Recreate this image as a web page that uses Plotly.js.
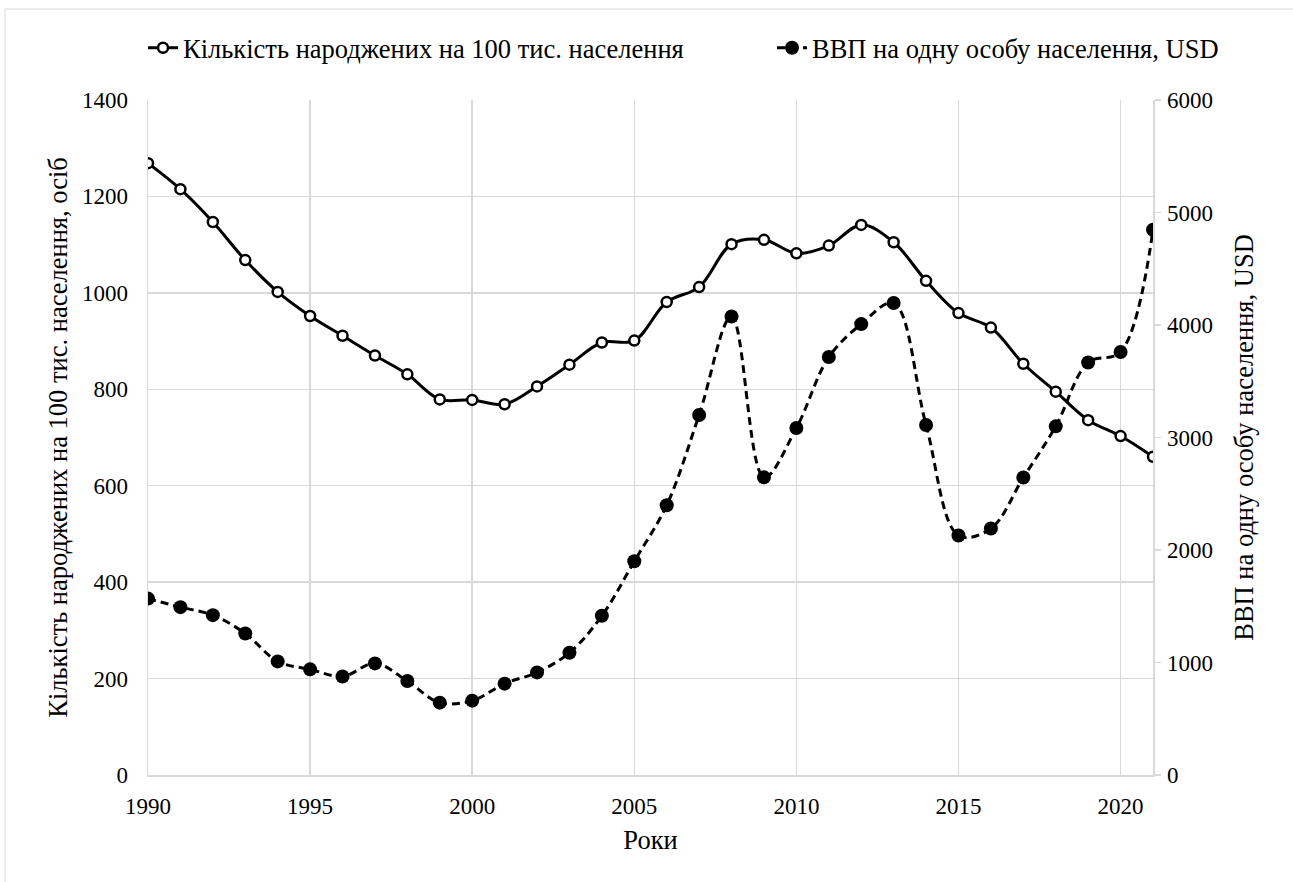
<!DOCTYPE html>
<html>
<head>
<meta charset="utf-8">
<script src="https://cdn.plot.ly/plotly-3.0.1.min.js"></script>
<style>
  html, body { margin: 0; padding: 0; background: #ffffff; }
  #chart { width: 1293px; height: 882px; }
</style>
</head>
<body>
<div id="chart"></div>
<script>
const years = [1990,1991,1992,1993,1994,1995,1996,1997,1998,1999,2000,2001,2002,2003,2004,2005,2006,2007,2008,2009,2010,2011,2012,2013,2014,2015,2016,2017,2018,2019,2020,2021];
const births = [1269,1215,1147,1068,1002,952,911,870,831,779,778,769,806,851,897,901,981,1012,1101,1110,1082,1098,1141,1105,1025,958,928,853,795,736,703,660];
const gdp = [1568,1492,1421,1258,1010,939,876,992,835,643,661,812,912,1087,1415,1900,2398,3200,4076,2646,3085,3715,4008,4195,3111,2129,2191,2644,3099,3667,3760,4846];
const birthsName = "Кількість народжених на 100 тис. населення";
const gdpName = "ВВП на одну особу населення, USD";
const xTitle = "Роки";
const yTitle = "Кількість народжених на 100 тис. населення, осіб";
const y2Title = "ВВП на одну особу населення, USD";

const FONT = "'Liberation Serif', 'Times New Roman', serif";
const GRID = "#d9d9d9";

const traces = [
  {
    x: years, y: births, name: birthsName, type: "scatter", mode: "lines+markers",
    legend: "legend",
    line: { color: "#000000", width: 3, shape: "spline", smoothing: 1 },
    marker: { symbol: "circle", size: 10, color: "#ffffff", line: { color: "#000000", width: 2.5 } },
    hoverinfo: "skip"
  },
  {
    x: years, y: gdp, name: gdpName, type: "scatter", mode: "lines+markers", yaxis: "y2",
    legend: "legend2",
    line: { color: "#000000", width: 3, shape: "spline", smoothing: 1, dash: "8px,5px" },
    marker: { symbol: "circle", size: 14, color: "#000000" },
    hoverinfo: "skip"
  }
];

const legendFont = { family: FONT, size: 26.5, color: "#000000" };

const layout = {
  width: 1293, height: 882,
  margin: { l: 148, r: 140, t: 100, b: 107, autoexpand: false },
  paper_bgcolor: "#ffffff", plot_bgcolor: "#ffffff",
  font: { family: FONT, size: 23, color: "#000000" },
  showlegend: true,
  legend: {
    orientation: "h", xref: "container", yref: "container",
    x: 143 / 1293, xanchor: "left", y: 1 - 48 / 882, yanchor: "middle",
    font: legendFont, itemwidth: 30
  },
  legend2: {
    orientation: "h", xref: "container", yref: "container",
    x: 772 / 1293, xanchor: "left", y: 1 - 48 / 882, yanchor: "middle",
    font: legendFont, itemwidth: 30
  },
  xaxis: {
    range: [1990, 2021], tick0: 1990, dtick: 5, tickmode: "linear",
    showgrid: true, gridcolor: GRID, gridwidth: 1.5,
    showline: true, linecolor: GRID, linewidth: 1.5,
    zeroline: false, ticks: "", ticklabelstandoff: 10,
    tickfont: { family: FONT, size: 23 },
    title: { text: xTitle, font: { family: FONT, size: 26.5 }, standoff: 12 }
  },
  yaxis: {
    range: [0, 1400], tick0: 0, dtick: 200, tickmode: "linear",
    showgrid: true, gridcolor: GRID, gridwidth: 1.5,
    showline: true, linecolor: GRID, linewidth: 1.5,
    zeroline: false, ticks: "", ticklabelstandoff: 14,
    tickfont: { family: FONT, size: 23 },
    title: { text: yTitle, font: { family: FONT, size: 26.5 }, standoff: 6 }
  },
  yaxis2: {
    overlaying: "y", side: "right", anchor: "x",
    range: [0, 6000], tick0: 0, dtick: 1000, tickmode: "linear",
    showgrid: false, showline: true, linecolor: GRID, linewidth: 1.5,
    zeroline: false, ticks: "outside", ticklen: 6, tickwidth: 1.5, tickcolor: GRID,
    ticklabelstandoff: 2,
    tickfont: { family: FONT, size: 23 },
    title: { text: y2Title, font: { family: FONT, size: 26.5 }, standoff: 22 }
  },
  shapes: [
    { type: "rect", xref: "paper", yref: "paper", x0: -0.1423, x1: 1.145, y0: -0.175, y1: 1.1348,
      line: { color: GRID, width: 1 }, fillcolor: "rgba(0,0,0,0)", layer: "below" }
  ]
};

Plotly.newPlot("chart", traces, layout, { displayModeBar: false, staticPlot: true });
</script>
</body>
</html>
